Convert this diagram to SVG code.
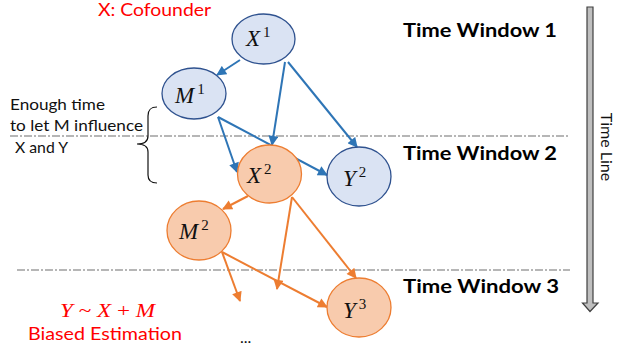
<svg xmlns="http://www.w3.org/2000/svg" width="619" height="350" viewBox="0 0 619 350">
  <style>
    .blue { fill: #dae3f3; stroke: #2f528f; stroke-width: 1.3; }
    .orange { fill: #f8cbad; stroke: #ed7d31; stroke-width: 1.3; }
    .math { font-family: "Liberation Serif", "DejaVu Serif", serif; font-size: 23px; fill: #111; }
    .math .v { font-style: italic; }
    .math .s { font-size: 15px; }
    .win { font-family: Lato, "Open Sans", "Liberation Sans", sans-serif; font-weight: bold; font-size: 19px; fill: #000; }
    .note { font-family: Lato, "Open Sans", "Liberation Sans", sans-serif; font-size: 15px; fill: #111; }
    .red { font-family: Lato, "Open Sans", "Liberation Sans", sans-serif; font-size: 18px; fill: #ff0000; }
    .sep { stroke: #6f6f6f; stroke-width: 1.2; stroke-dasharray: 8 2 2 2; fill: none; }
    .ab { stroke: #2e75b6; stroke-width: 2; fill: none; marker-end: url(#headB); }
    .ao { stroke: #ed7d31; stroke-width: 2; fill: none; marker-end: url(#headO); }
  </style>
  <defs>
    <marker id="headB" viewBox="0 0 10 10" refX="9" refY="5" markerWidth="11" markerHeight="10" markerUnits="userSpaceOnUse" orient="auto">
      <path d="M0,0 L10,5 L0,10 z" fill="#2e75b6"/>
    </marker>
    <marker id="headO" viewBox="0 0 10 10" refX="9" refY="5" markerWidth="11" markerHeight="10" markerUnits="userSpaceOnUse" orient="auto">
      <path d="M0,0 L10,5 L0,10 z" fill="#ed7d31"/>
    </marker>
  </defs>

  <!-- time window separators -->
  <line class="sep" x1="10" y1="136" x2="570" y2="136"/>
  <line class="sep" x1="17" y1="270" x2="570" y2="270"/>

  <!-- time line arrow -->
  <g id="timeline">
    <path d="M587,7 L593,7 L593,303 L598,303 L590,311.5 L582.5,303 L587,303 z" fill="#bfbfbf" stroke="#404040" stroke-width="1.2" stroke-linejoin="miter"/>
    <text class="note" transform="translate(601,147) rotate(90)" text-anchor="middle" style="font-size:16px">Time Line</text>
  </g>

  <!-- window labels -->
  <text class="win" x="403" y="37" textLength="154" lengthAdjust="spacingAndGlyphs">Time Window 1</text>
  <text class="win" x="403" y="160" textLength="154" lengthAdjust="spacingAndGlyphs">Time Window 2</text>
  <text class="win" x="403" y="293" textLength="156" lengthAdjust="spacingAndGlyphs">Time Window 3</text>

  <!-- annotations -->
  <text class="red" x="98" y="16" style="font-size:17px" textLength="113" lengthAdjust="spacingAndGlyphs">X: Cofounder</text>
  <text class="note" x="10" y="110" textLength="95" lengthAdjust="spacingAndGlyphs">Enough time</text>
  <text class="note" x="10" y="131" textLength="133" lengthAdjust="spacingAndGlyphs">to let M influence</text>
  <text class="note" x="15" y="153" textLength="53" lengthAdjust="spacingAndGlyphs">X and Y</text>
  <path d="M157,107 C150,107 148,110 148,116 L148,136 C148,141 144,144 137,144 C144,144 148,147 148,152 L148,175 C148,180 150,183 157,183" fill="none" stroke="#111" stroke-width="1.2"/>

  <text class="red" x="60" y="317" style="font-family:'Liberation Serif','DejaVu Serif',serif;font-size:19px" textLength="95" lengthAdjust="spacingAndGlyphs"><tspan font-style="italic">Y</tspan> ~ <tspan font-style="italic">X</tspan> + <tspan font-style="italic">M</tspan></text>
  <text class="red" x="28" y="340" textLength="154" lengthAdjust="spacingAndGlyphs">Biased Estimation</text>
  <text class="note" x="240" y="343" style="font-size:16px">...</text>

  <!-- connectors -->
  <g id="connectors">
    <line class="ab" x1="240" y1="60" x2="217" y2="75"/>
    <line class="ab" x1="285" y1="62" x2="272" y2="145"/>
    <line class="ab" x1="288" y1="62" x2="357" y2="147"/>
    <line class="ab" x1="218" y1="117" x2="237" y2="172"/>
    <line class="ab" x1="218" y1="117" x2="327" y2="175"/>
    <line class="ao" x1="248" y1="196" x2="223" y2="209"/>
    <line class="ao" x1="292" y1="197" x2="277" y2="289"/>
    <line class="ao" x1="292" y1="197" x2="356" y2="278"/>
    <line class="ao" x1="222" y1="252" x2="240" y2="301"/>
    <line class="ao" x1="222" y1="252" x2="327" y2="307"/>
  </g>

  <!-- nodes -->
  <g id="X1">
    <ellipse class="blue" cx="263.5" cy="39" rx="31.5" ry="25"/>
    <text class="math" x="246" y="46"><tspan class="v">X</tspan><tspan class="s" dx="3" dy="-9">1</tspan></text>
  </g>
  <g id="M1">
    <ellipse class="blue" cx="194" cy="93.5" rx="32" ry="25.5"/>
    <text class="math" x="175" y="103"><tspan class="v">M</tspan><tspan class="s" dx="3" dy="-9">1</tspan></text>
  </g>
  <g id="X2">
    <ellipse class="orange" cx="269.5" cy="174" rx="32" ry="29"/>
    <text class="math" x="247" y="183"><tspan class="v">X</tspan><tspan class="s" dx="3" dy="-9">2</tspan></text>
  </g>
  <g id="Y2">
    <ellipse class="blue" cx="359" cy="176.5" rx="32" ry="29.5"/>
    <text class="math" x="343" y="186"><tspan class="v">Y</tspan><tspan class="s" dx="3" dy="-9">2</tspan></text>
  </g>
  <g id="M2">
    <ellipse class="orange" cx="199" cy="230.5" rx="32" ry="29.5"/>
    <text class="math" x="179" y="239"><tspan class="v">M</tspan><tspan class="s" dx="3" dy="-9">2</tspan></text>
  </g>
  <g id="Y3">
    <ellipse class="orange" cx="359" cy="307.5" rx="32" ry="29.5"/>
    <text class="math" x="343" y="318"><tspan class="v">Y</tspan><tspan class="s" dx="3" dy="-9">3</tspan></text>
  </g>
</svg>
